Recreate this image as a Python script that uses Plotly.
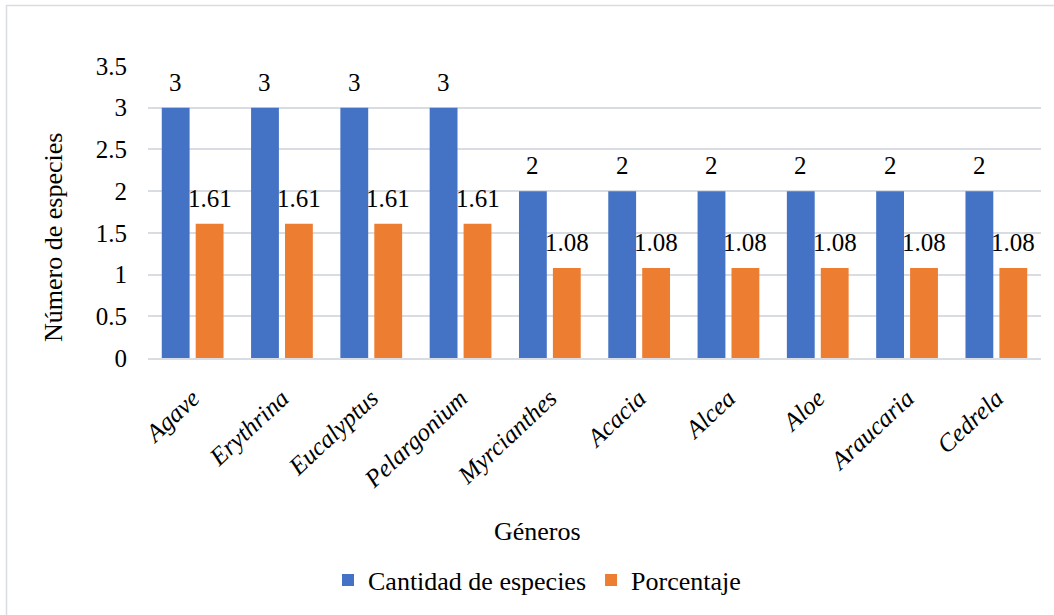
import plotly.graph_objects as go

generos = ["Agave", "Erythrina", "Eucalyptus", "Pelargonium", "Myrcianthes",
           "Acacia", "Alcea", "Aloe", "Araucaria", "Cedrela"]
cantidad = [3, 3, 3, 3, 2, 2, 2, 2, 2, 2]
porcentaje = [1.61, 1.61, 1.61, 1.61, 1.08, 1.08, 1.08, 1.08, 1.08, 1.08]

serie_nombres = ["Cantidad de especies", "Porcentaje"]
colores = ["#4472C4", "#ED7D31"]

W, H = 1054, 615
ML, MR, MT, MB = 148, 13, 66, 257
PW, PH = W - ML - MR, H - MT - MB

def px_x(p):
    return (p - ML) / PW

def px_y(p):
    return (H - MB - p) / PH

FONT = "Liberation Serif, Times New Roman, serif"

fig = go.Figure()
fig.add_trace(go.Bar(x=generos, y=cantidad, name=serie_nombres[0],
                     marker=dict(color=colores[0], line=dict(width=0))))
fig.add_trace(go.Bar(x=generos, y=porcentaje, name=serie_nombres[1],
                     marker=dict(color=colores[1], line=dict(width=0))))

annotations = []
for g, v in zip(generos, cantidad):
    annotations.append(dict(x=g, y=v, xref="x", yref="y", text=str(v),
                            showarrow=False, xshift=-17, yshift=10,
                            yanchor="bottom", xanchor="center",
                            font=dict(family=FONT, size=25, color="#000000")))
for g, v in zip(generos, porcentaje):
    annotations.append(dict(x=g, y=v, xref="x", yref="y", text=f"{v:.2f}",
                            showarrow=False, xshift=17, yshift=10,
                            yanchor="bottom", xanchor="center",
                            font=dict(family=FONT, size=25, color="#000000")))

annotations.append(dict(x=px_x(53), y=px_y(238), xref="paper", yref="paper",
                        text="Número de especies", textangle=-90, showarrow=False,
                        xanchor="center", yanchor="middle",
                        font=dict(family=FONT, size=26, color="#000000")))
annotations.append(dict(x=px_x(537), y=px_y(531), xref="paper", yref="paper",
                        text="Géneros", showarrow=False,
                        xanchor="center", yanchor="middle",
                        font=dict(family=FONT, size=26, color="#000000")))

fig.update_layout(
    width=W, height=H,
    margin=dict(l=ML, r=MR, t=MT, b=MB),
    paper_bgcolor="white", plot_bgcolor="white",
    barmode="group", bargap=0.24, bargroupgap=0.18,
    font=dict(family=FONT, size=25, color="#000000"),
    showlegend=True,
    legend=dict(orientation="h", x=px_x(537), y=px_y(580), xanchor="center",
                yanchor="middle", font=dict(family=FONT, size=26, color="#000000"),
                itemwidth=30, bgcolor="rgba(0,0,0,0)"),
    annotations=annotations,
    shapes=[dict(type="rect", xref="paper", yref="paper",
                 x0=px_x(6.5), x1=px_x(1070), y0=px_y(5.5), y1=px_y(630),
                 line=dict(color="#d9dce3", width=1.5), layer="below")],
)

fig.update_xaxes(
    type="category", showgrid=False, showline=True, linecolor="#d9dce3", linewidth=1.5,
    ticks="", tickangle=-43, ticklabelstandoff=14,
    tickfont=dict(family=FONT, size=25, color="#000000", style="italic"),
)
fig.update_yaxes(
    range=[0, 3.5], dtick=0.5, tick0=0, showgrid=True, gridcolor="#d9dce3", gridwidth=1.5,
    zeroline=False, showline=False, ticks="", ticklabelstandoff=20,
    tickfont=dict(family=FONT, size=25, color="#000000"),
)

fig.write_html("out.html")
